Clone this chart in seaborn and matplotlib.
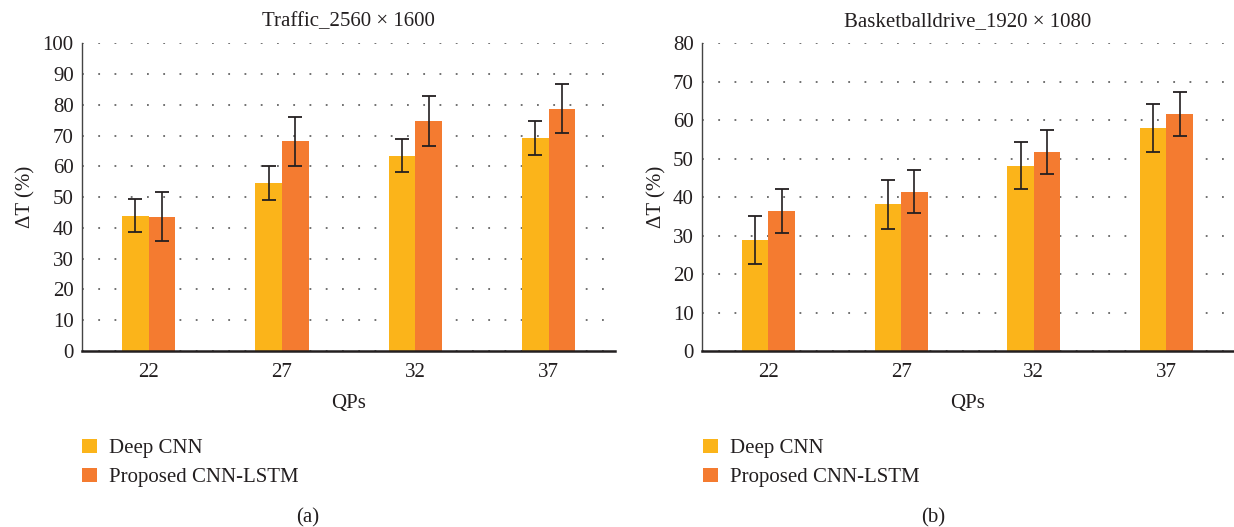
import numpy as np
import pandas as pd
import matplotlib
matplotlib.use("Agg")
import matplotlib.pyplot as plt
import seaborn as sns
from matplotlib.patches import Patch

qps = ["22", "27", "32", "37"]
methods = ["Deep CNN", "Proposed CNN-LSTM"]

traffic_deep = [44.0, 54.6, 63.5, 69.2]
traffic_deep_err = [5.5, 5.5, 5.5, 5.5]
traffic_prop = [43.6, 68.1, 74.6, 78.7]
traffic_prop_err = [8.0, 8.0, 8.1, 8.0]

basket_deep = [28.8, 38.1, 48.2, 58.0]
basket_deep_err = [6.3, 6.3, 6.2, 6.3]
basket_prop = [36.3, 41.4, 51.8, 61.6]
basket_prop_err = [5.7, 5.6, 5.7, 5.6]

colors = ["#FBB41A", "#F47B30"]

sns.set_theme(style="white")
plt.rcParams["font.family"] = ["Liberation Serif", "DejaVu Serif"]
plt.rcParams["text.color"] = "#231F20"
plt.rcParams["axes.labelcolor"] = "#231F20"
plt.rcParams["xtick.color"] = "#231F20"
plt.rcParams["ytick.color"] = "#231F20"

FS = 15

fig = plt.figure(figsize=(12.34, 5.27), dpi=100)
ax1 = fig.add_axes([0.0665, 0.334, 0.432, 0.584])
ax2 = fig.add_axes([0.569, 0.334, 0.430, 0.584])


def draw_panel(ax, deep, deep_err, prop, prop_err, ymax, title):
    df = pd.DataFrame({
        "QP": qps * 2,
        "method": [methods[0]] * 4 + [methods[1]] * 4,
        "value": deep + prop,
    })
    errs = deep_err + prop_err
    sns.barplot(data=df, x="QP", y="value", hue="method", order=qps,
                hue_order=methods, palette=colors, errorbar=None,
                width=0.4, saturation=1, ax=ax, legend=False, linewidth=0)
    bars = [p for p in ax.patches if p.get_height() > 0]
    for bar, err in zip(bars, errs):
        x = bar.get_x() + bar.get_width() / 2
        ax.errorbar(x, bar.get_height(), yerr=err, fmt="none",
                    ecolor="#231F20", elinewidth=1.2, capsize=4.7,
                    capthick=1.3, zorder=4)
    ax.set_ylim(0, ymax)
    ax.set_xlim(-0.5, 3.5)
    ax.set_yticks(np.arange(0, ymax + 1, 10))
    ax.yaxis.grid(True, linestyle=(0, (1, 8)), color="#666666", linewidth=1.3)
    ax.set_axisbelow(True)
    for side in ("top", "right"):
        ax.spines[side].set_visible(False)
    ax.spines["left"].set_color("#444444")
    ax.spines["left"].set_linewidth(1.0)
    ax.spines["bottom"].set_color("#231F20")
    ax.spines["bottom"].set_linewidth(1.8)
    ax.tick_params(axis="y", length=0, labelsize=FS, pad=6)
    ax.tick_params(axis="x", length=0, labelsize=FS, pad=9)
    ax.set_xlabel("QPs", fontsize=FS, labelpad=8)
    ax.set_ylabel("ΔT (%)", fontsize=FS, labelpad=5)
    ax.set_title(title, fontsize=FS, pad=12)


draw_panel(ax1, traffic_deep, traffic_deep_err, traffic_prop, traffic_prop_err,
           100, "Traffic_2560 × 1600")
draw_panel(ax2, basket_deep, basket_deep_err, basket_prop, basket_prop_err,
           80, "Basketballdrive_1920 × 1080")

handles = [Patch(facecolor=c, edgecolor="none") for c in colors]
for xpos in (0.060, 0.563):
    fig.legend(handles, methods, loc="upper left", bbox_to_anchor=(xpos, 0.183),
               frameon=False, fontsize=FS, handlelength=0.7, handleheight=0.7,
               handletextpad=0.6, labelspacing=0.45, borderaxespad=0)

fig.text(0.249, 0.008, "(a)", fontsize=FS, ha="center")
fig.text(0.756, 0.008, "(b)", fontsize=FS, ha="center")

fig.savefig("out.png", dpi=100, facecolor="white")
